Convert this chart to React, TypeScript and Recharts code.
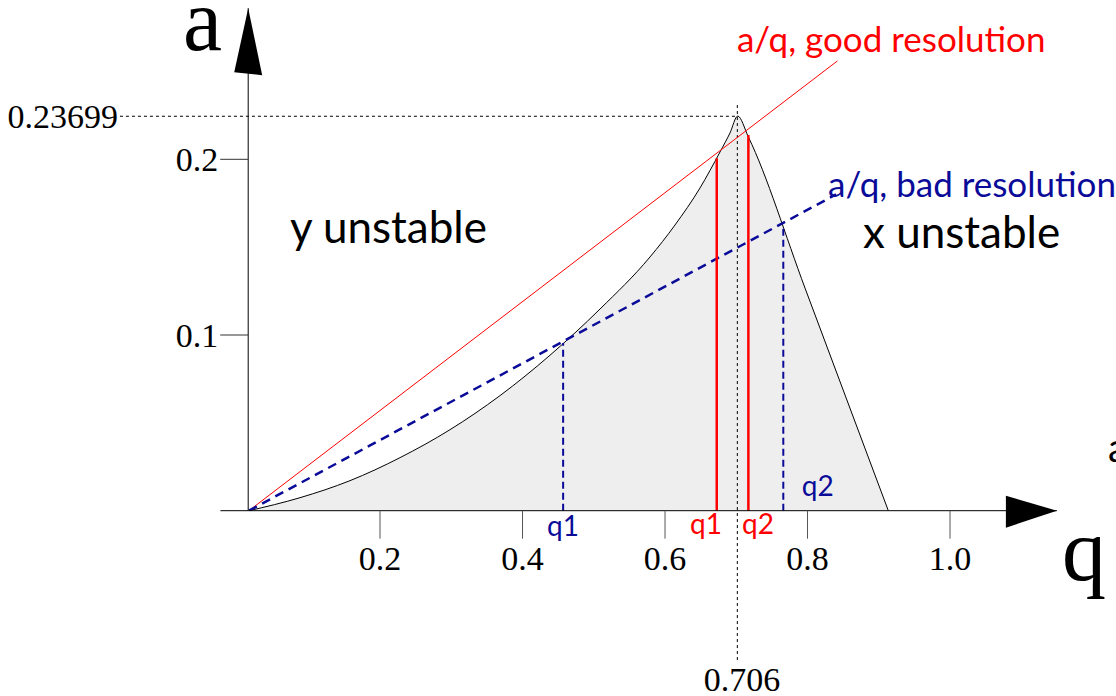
import {
  ComposedChart,
  Area,
  Line,
  XAxis,
  YAxis,
  ReferenceLine,
  ReferenceDot,
} from "recharts";

// boundary of the stable region
const boundaryQ = [
  0.0161, 0.0877, 0.1579, 0.2281, 0.2982, 0.3684, 0.4386, 0.5088, 0.5789,
  0.614, 0.6491, 0.6772, 0.6912, 0.702, 0.7169, 0.7965, 0.9134,
];
const boundaryA = [
  0, 0.0074, 0.0171, 0.0302, 0.0461, 0.0655, 0.0885, 0.1148, 0.1444, 0.1626,
  0.1837, 0.2042, 0.215, 0.2246, 0.2128, 0.1267, 0,
];

// scan lines a/q
const goodLineQ = [0.016, 0.842];
const goodLineA = [0, 0.256];
const badLineQ = [0.016, 0.84];
const badLineA = [0, 0.18];

// q1 / q2 where the scan lines leave the region
const goodCutQ = [0.6726, 0.717];
const goodCutA = [0.2006, 0.2138];
const badCutQ = [0.457, 0.766];
const badCutA = [0.0954, 0.1615];

// apex marker
const apexQ = 0.7015;
const apexA = 0.2245;

const xTicks = [0.2, 0.4, 0.6, 0.8, 1.0];
const yTicks = [0.1, 0.2];

const RED = "#ff0000";
const BLUE = "#0b0b99";
const SERIF = "'Liberation Serif', 'DejaVu Serif', serif";
const SANS = "Lato, 'Open Sans', sans-serif";

type Note = {
  q: number;
  a: number;
  text: string;
  color: string;
  size: number;
  font: string;
  anchor?: "start" | "middle" | "end";
};

const notes: Note[] = [
  { q: -0.0765, a: 0.2622, text: "a", color: "#000", size: 88, font: SERIF },
  { q: 1.157, a: -0.0394, text: "q", color: "#000", size: 88, font: SERIF },
  { q: 0.701, a: 0.2611, text: "a/q, good resolution", color: RED, size: 35, font: SANS },
  { q: 0.8288, a: 0.1784, text: "a/q, bad resolution", color: BLUE, size: 35, font: SANS },
  { q: 0.0737, a: 0.1525, text: "y unstable", color: "#000", size: 44, font: SANS },
  { q: 0.8778, a: 0.1495, text: "x unstable", color: "#000", size: 44, font: SANS },
  { q: 0.4344, a: -0.0145, text: "q1", color: BLUE, size: 28, font: SANS },
  { q: 0.792, a: 0.0085, text: "q2", color: BLUE, size: 28, font: SANS },
  { q: 0.635, a: -0.0135, text: "q1", color: RED, size: 28, font: SANS },
  { q: 0.708, a: -0.0135, text: "q2", color: RED, size: 28, font: SANS },
  { q: 0.708, a: -0.1025, text: "0.706", color: "#000", size: 34, font: SERIF, anchor: "middle" },
  { q: -0.1677, a: 0.2178, text: "0.23699", color: "#000", size: 34, font: SERIF, anchor: "end" },
  { q: 1.2218, a: 0.0277, text: "a", color: "#000", size: 40, font: SANS },
];

const region = boundaryQ.map((q, i) => ({ q, a: boundaryA[i] }));
const goodLine = goodLineQ.map((q, i) => ({ q, a: goodLineA[i] }));
const badLine = badLineQ.map((q, i) => ({ q, a: badLineA[i] }));

const X_MIN = 0.015;
const X_MAX = 1.15;
const Y_MAX = 0.286;

const textShape = (n: Note) => (props: any) => (
  <text
    x={props.cx}
    y={props.cy}
    fill={n.color}
    fontSize={n.size}
    fontFamily={n.font}
    textAnchor={n.anchor ?? "start"}
  >
    {n.text}
  </text>
);

const upArrow = (props: any) => (
  <polygon
    points={`${props.cx},${props.cy} ${props.cx - 14},${props.cy + 64} ${props.cx + 14},${props.cy + 67}`}
    fill="#000"
  />
);

const rightArrow = (props: any) => (
  <polygon
    points={`${props.cx},${props.cy} ${props.cx - 51},${props.cy - 15} ${props.cx - 51},${props.cy + 17}`}
    fill="#000"
  />
);

export default function App() {
  return (
    <div style={{ position: "absolute", left: 0, top: 0, background: "#fff" }}>
      <ComposedChart
        width={1116}
        height={696}
        margin={{ top: 8.2, right: 59.1, left: 188.2, bottom: 155.3 }}
      >
        <XAxis
          type="number"
          dataKey="q"
          domain={[X_MIN, X_MAX]}
          allowDataOverflow
          ticks={xTicks}
          tickFormatter={(v: number) => v.toFixed(1)}
          tickSize={28}
          tickMargin={7}
          height={30}
          axisLine={{ stroke: "#000", strokeWidth: 1 }}
          tickLine={{ stroke: "#555" }}
          tick={{ fill: "#000", fontSize: 34, fontFamily: SERIF }}
        />
        <YAxis
          type="number"
          domain={[0, Y_MAX]}
          allowDataOverflow
          ticks={yTicks}
          tickFormatter={(v: number) => String(v)}
          tickSize={28}
          tickMargin={2}
          width={60}
          axisLine={{ stroke: "#000", strokeWidth: 1 }}
          tickLine={{ stroke: "#333" }}
          tick={{ fill: "#000", fontSize: 34, fontFamily: SERIF }}
        />

        <Area
          data={region}
          dataKey="a"
          type="monotone"
          fill="#eeeeee"
          fillOpacity={1}
          stroke="#000"
          strokeWidth={1}
          dot={false}
          activeDot={false}
          isAnimationActive={false}
        />

        {/* apex guides */}
        <ReferenceLine
          segment={[{ x: -0.165, y: apexA }, { x: apexQ, y: apexA }]}
          stroke="#000"
          strokeDasharray="3 3"
          ifOverflow="visible"
        />
        <ReferenceLine
          segment={[{ x: apexQ, y: -0.085 }, { x: apexQ, y: 0.231 }]}
          stroke="#000"
          strokeDasharray="3 3"
          ifOverflow="visible"
        />

        {/* x axis lead-in left of the a axis */}
        <ReferenceLine
          segment={[{ x: -0.024, y: 0 }, { x: X_MIN, y: 0 }]}
          stroke="#000"
          ifOverflow="visible"
        />

        <Line
          data={goodLine}
          dataKey="a"
          type="linear"
          stroke={RED}
          strokeWidth={1}
          dot={false}
          activeDot={false}
          isAnimationActive={false}
        />
        <Line
          data={badLine}
          dataKey="a"
          type="linear"
          stroke={BLUE}
          strokeWidth={2.5}
          strokeDasharray="9 6"
          dot={false}
          activeDot={false}
          isAnimationActive={false}
        />

        {goodCutQ.map((q, i) => (
          <ReferenceLine
            key={"g" + i}
            segment={[{ x: q, y: 0 }, { x: q, y: goodCutA[i] }]}
            stroke={RED}
            strokeWidth={2.5}
          />
        ))}
        {badCutQ.map((q, i) => (
          <ReferenceLine
            key={"b" + i}
            segment={[{ x: q, y: 0 }, { x: q, y: badCutA[i] }]}
            stroke={BLUE}
            strokeWidth={2}
            strokeDasharray="7 4"
          />
        ))}

        <ReferenceDot x={X_MIN} y={Y_MAX} r={0} shape={upArrow} ifOverflow="visible" />
        <ReferenceDot x={X_MAX} y={0} r={0} shape={rightArrow} ifOverflow="visible" />

        {notes.map((n, i) => (
          <ReferenceDot
            key={"n" + i}
            x={n.q}
            y={n.a}
            r={0}
            shape={textShape(n)}
            ifOverflow="visible"
          />
        ))}
      </ComposedChart>
    </div>
  );
}
